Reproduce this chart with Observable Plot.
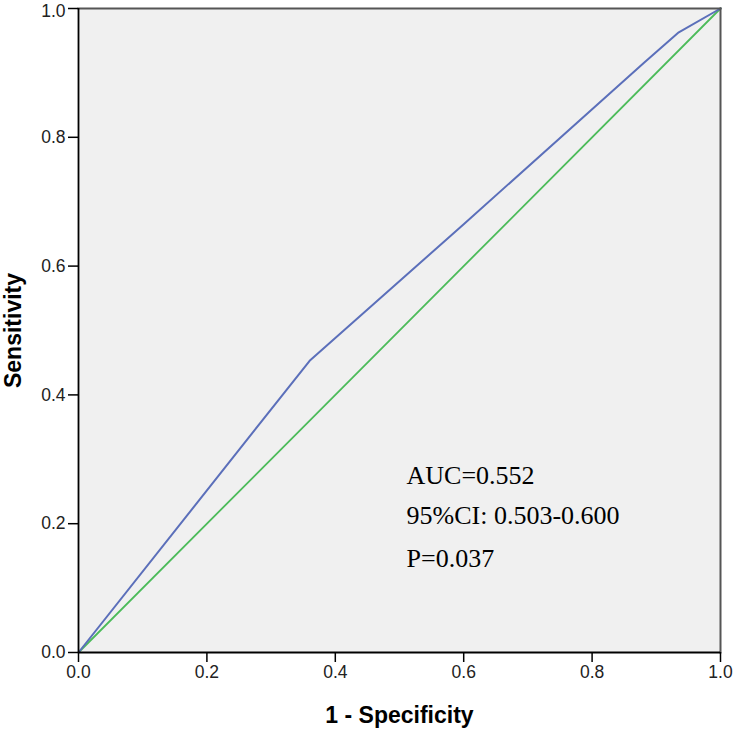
<!DOCTYPE html>
<html>
<head>
<meta charset="utf-8">
<script src="https://cdn.jsdelivr.net/npm/d3@7"></script>
<script src="https://cdn.jsdelivr.net/npm/@observablehq/plot@0.6"></script>
<style>
  html, body { margin: 0; padding: 0; background: #ffffff; }
  #chart svg { display: block; }
</style>
</head>
<body>
<div id="chart"></div>
<script>
// ROC curve (1 - specificity, sensitivity)
const rocFpr = [0, 0.36, 0.60, 0.88, 0.935, 1];
const rocTpr = [0, 0.453, 0.665, 0.915, 0.963, 1];
// reference (chance) line
const refX = [0, 1];
const refY = [0, 1];
// tick values
const ticks = [0, 0.2, 0.4, 0.6, 0.8, 1.0];
// annotation lines
const annoText = ["AUC=0.552", "95%CI: 0.503-0.600", "P=0.037"];
const annoX = [0.511, 0.511, 0.511];
const annoY = [0.2624, 0.1988, 0.1335];

const roc = rocFpr.map((x, i) => ({x, y: rocTpr[i]}));
const ref = refX.map((x, i) => ({x, y: refY[i]}));
const anno = annoText.map((t, i) => ({t, x: annoX[i], y: annoY[i]}));
const fmt = d3.format(".1f");
const topTick = ticks.filter(t => t >= 1);

const chart = Plot.plot({
  width: 735,
  height: 730,
  marginLeft: 78,
  marginRight: 15,
  marginTop: 8,
  marginBottom: 78,
  style: {fontFamily: "'Liberation Sans', Arial, sans-serif", fontSize: "17.5px", color: "#222", background: "#ffffff"},
  x: {domain: [0, 1], label: null},
  y: {domain: [0, 1], label: null},
  marks: [
    Plot.frame({fill: "#f0f0f0", stroke: "none"}),
    Plot.line(ref, {x: "x", y: "y", stroke: "#4cbb5a", strokeWidth: 1.8}),
    Plot.line(roc, {x: "x", y: "y", stroke: "#5b6fba", strokeWidth: 2}),
    Plot.frame({anchor: "top", stroke: "#555", strokeWidth: 2}),
    Plot.frame({anchor: "right", stroke: "#555", strokeWidth: 2}),
    Plot.axisX({ticks: ticks, tickFormat: fmt, label: null, tickSize: 10, tickPadding: 3,
      stroke: "#000", strokeWidth: 1.5, fontSize: 17.5, fill: "#222"}),
    Plot.axisY({ticks: ticks, tickFormat: t => (t < 1 ? fmt(t) : ""), label: null, tickSize: 10, tickPadding: 3,
      stroke: "#000", strokeWidth: 1.5, fontSize: 17.5, fill: "#222"}),
    Plot.text(topTick, {y: d => d, frameAnchor: "left", dx: -13, dy: 3, text: d => fmt(d),
      textAnchor: "end", lineAnchor: "middle", fontSize: 17.5, fill: "#222"}),
    Plot.ruleX([0], {stroke: "#000", strokeWidth: 1.8}),
    Plot.ruleY([0], {stroke: "#000", strokeWidth: 1.8}),
    Plot.text(anno, {x: "x", y: "y", text: "t", textAnchor: "start", lineAnchor: "bottom",
      fontFamily: "'Liberation Serif', 'Times New Roman', serif", fontSize: 26, fill: "#000"}),
    Plot.text(["Sensitivity"], {frameAnchor: "left", dx: -65, rotate: -90, textAnchor: "middle", lineAnchor: "middle",
      fontSize: 23, fontWeight: "bold", fill: "#000"}),
    Plot.text(["1 - Specificity"], {frameAnchor: "bottom", dy: 63, textAnchor: "middle", lineAnchor: "middle",
      fontSize: 23, fontWeight: "bold", fill: "#000"})
  ]
});
document.getElementById("chart").appendChild(chart);
</script>
</body>
</html>
